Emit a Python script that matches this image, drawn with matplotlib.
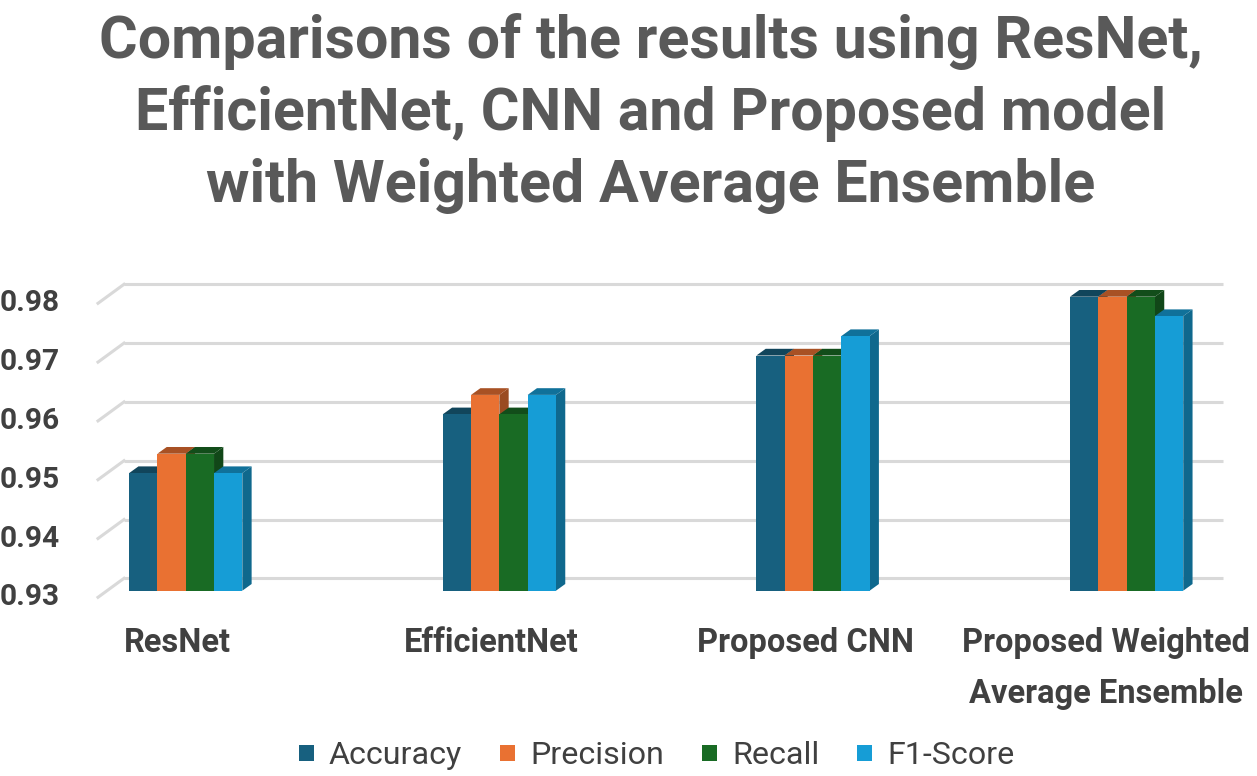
import matplotlib
matplotlib.use("Agg")
import matplotlib.pyplot as plt
from matplotlib import font_manager
from matplotlib.patches import Polygon, Rectangle
import numpy as np

# data
models = ["ResNet", "EfficientNet", "Proposed CNN", "Proposed Weighted\nAverage Ensemble"]
metrics = ["Accuracy", "Precision", "Recall", "F1-Score"]
accuracy = [0.95, 0.96, 0.97, 0.98]
precision = [0.9533, 0.9633, 0.97, 0.98]
recall = [0.9533, 0.96, 0.97, 0.98]
f1_score = [0.95, 0.9633, 0.9733, 0.9767]
yticks = [0.93, 0.94, 0.95, 0.96, 0.97, 0.98]

colors = ["#17607F", "#E97132", "#196B24", "#169DD6"]
title_lines = ["Comparisons of the results using ResNet,",
               "EfficientNet, CNN and Proposed model",
               "with Weighted Average Ensemble"]


def pick_font(names):
    for n in names:
        try:
            font_manager.findfont(font_manager.FontProperties(family=n), fallback_to_default=False)
            return n
        except Exception:
            pass
    return "DejaVu Sans"


FONT = pick_font(["Liberation Sans Narrow", "Roboto", "Open Sans", "Liberation Sans"])
TEXT = "#404040"

W, H = 1257, 776
fig = plt.figure(figsize=(W / 100, H / 100), dpi=100)
renderer = fig.canvas.get_renderer()


def fy(px):  # pixel from top -> figure fraction
    return 1 - px / H


def fit(txt, target_w, **kw):
    t = fig.text(0, 0, txt, fontsize=20, family=FONT, **kw)
    w = t.get_window_extent(renderer).width
    t.remove()
    return 20 * target_w / w


# axes = front plane of the bars
left_px, right_px = 107, 1206
base_px, top_px = 590.7, 267.3
ax = fig.add_axes([left_px / W, fy(base_px), (right_px - left_px) / W, (base_px - top_px) / H])
xlim = (-0.251, 3.253)
ylim = (0.93, 0.985)
ax.set_xlim(*xlim)
ax.set_ylim(*ylim)
ax.axis("off")

ppx = (right_px - left_px) / (xlim[1] - xlim[0])   # pixels per x unit
ppy = (base_px - top_px) / (ylim[1] - ylim[0])     # pixels per y unit


def dx(p):
    return p / ppx


def dy(p):
    return p / ppy


# back wall gridlines + floor diagonals
back = (17, 12.4)
front = (-9, -6.6)
tick_size = fit("0.98", 60, fontweight="bold")
for v in yticks:
    ax.plot([xlim[0] + dx(back[0]), xlim[1] + dx(back[0])], [v + dy(back[1])] * 2,
            color="#D9D9D9", lw=2.2, clip_on=False, zorder=1, solid_capstyle="butt")
    ax.plot([xlim[0] + dx(front[0]), xlim[0] + dx(back[0])],
            [v + dy(front[1]), v + dy(back[1])],
            color="#D9D9D9", lw=2.2, clip_on=False, zorder=1)
    ax.text(xlim[0] + dx(-47), v + dy(front[1]), f"{v:.2f}", ha="right", va="center",
            fontsize=tick_size, fontweight="bold", family=FONT, color=TEXT)

# 3D-looking bars
series = [accuracy, precision, recall, f1_score]
bw = dx(28.3)
depth = (dx(9.3), dy(6.7))
x = np.arange(len(models))
z = 2
for g in range(len(models)):
    x0 = x[g] - 2 * bw
    for k, vals in enumerate(series):
        v = vals[g]
        xl = x0 + k * bw
        xr = xl + bw
        c = np.array(matplotlib.colors.to_rgb(colors[k]))
        side = Polygon([(xr, ylim[0]), (xr, v), (xr + depth[0], v + depth[1]),
                        (xr + depth[0], ylim[0] + depth[1])],
                       closed=True, facecolor=c * 0.66, edgecolor="none", zorder=z)
        top = Polygon([(xl, v), (xr, v), (xr + depth[0], v + depth[1]), (xl + depth[0], v + depth[1])],
                      closed=True, facecolor=c * 0.72, edgecolor="none", zorder=z)
        ax.add_patch(side)
        ax.add_patch(top)
        ax.bar(xl, v - ylim[0], bottom=ylim[0], width=bw, align="edge",
               color=colors[k], edgecolor="none", zorder=z + 1)
        z += 2

# category labels (a long label is pulled back inside the figure as a whole)
lab_size = fit("ResNet", 107, fontweight="bold")
for g, name in enumerate(models):
    cx = x[g] - dx(8)
    texts = []
    for j, line in enumerate(name.split("\n")):
        t = fig.text(0, fy(652 + j * 51), line, ha="center", va="baseline",
                     fontsize=lab_size, fontweight="bold", family=FONT, color=TEXT)
        texts.append(t)
    cpx = ax.transData.transform((cx, ylim[0]))[0]
    widest = max(t.get_window_extent(renderer).width for t in texts)
    cpx = min(cpx, W - 7 - widest / 2)
    for t in texts:
        t.set_x(cpx / W)

# title
title_w = [1100, 1035, 940]
tsize = min(fit(l, w, fontweight="bold") for l, w in zip(title_lines, title_w))
for j, line in enumerate(title_lines):
    fig.text(651 / W, fy(58 + j * 72), line, ha="center", va="baseline",
             fontsize=tsize, fontweight="bold", family=FONT, color="#595959")

# legend
leg_size = fit("Accuracy", 133)
lx = 299
for k, m in enumerate(metrics):
    fig.patches.append(Rectangle((lx / W, fy(761)), 15 / W, 16 / H, transform=fig.transFigure,
                                 facecolor=colors[k], edgecolor="none"))
    t = fig.text((lx + 30) / W, fy(764), m, ha="left", va="baseline", fontsize=leg_size,
                 family=FONT, color=TEXT)
    lx += 30 + t.get_window_extent(renderer).width + 38

fig.savefig("out.png", dpi=100)
